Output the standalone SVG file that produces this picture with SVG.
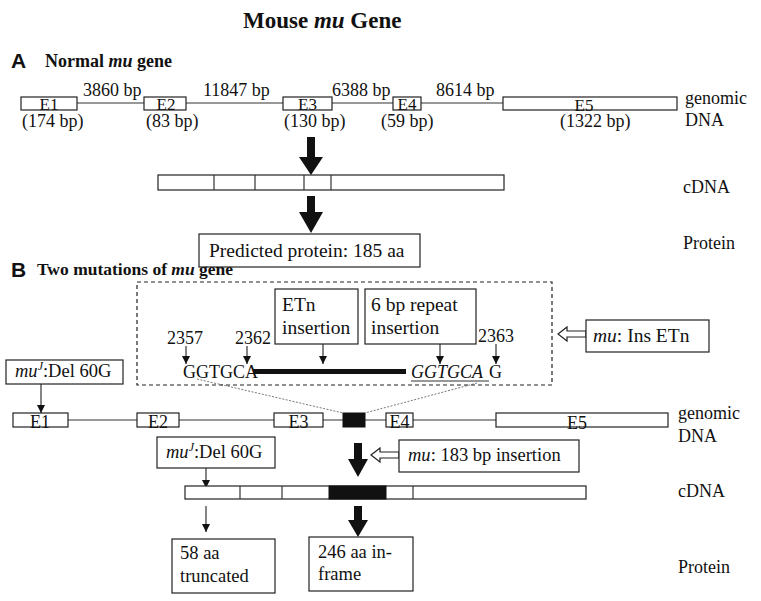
<svg xmlns="http://www.w3.org/2000/svg" width="761" height="601" viewBox="0 0 761 601">
<defs>
<style>
.t{font-family:"Liberation Serif","Times New Roman",serif;font-size:18px;fill:#111}
.e{font-family:"Liberation Serif","Times New Roman",serif;font-size:17px;fill:#111}
.tb{font-family:"Liberation Serif","Times New Roman",serif;font-size:18.5px;fill:#111}
.tl{font-family:"Liberation Serif","Times New Roman",serif;font-size:19.5px;fill:#111}
.h{font-family:"Liberation Serif","Times New Roman",serif;font-weight:bold;font-size:18px;fill:#111}
.sl{font-family:"Liberation Sans",Arial,sans-serif;font-weight:bold;font-size:21px;fill:#111}
.i{font-style:italic}
.box{fill:#fff;stroke:#222;stroke-width:1.2}
.ln{stroke:#333;stroke-width:1.2;fill:none}
.thin{stroke:#333;stroke-width:1.2;fill:none}
.dot{stroke:#555;stroke-width:0.8;fill:none;stroke-dasharray:2 1.5}
.dash{fill:none;stroke:#222;stroke-width:1.2;stroke-dasharray:4 3}
.big{fill:#111;stroke:none}
.hollow{fill:#fff;stroke:#222;stroke-width:1.2}
.blk{fill:#111;stroke:#111;stroke-width:1}
</style>
<marker id="ah" viewBox="0 0 10 10" refX="10" refY="5" markerWidth="8" markerHeight="8" markerUnits="userSpaceOnUse" orient="auto">
<path d="M0,0 L10,5 L0,10 Z" fill="#111"/>
</marker>
</defs>
<rect width="761" height="601" fill="#fff"/>

<g id="title">
<text class="h" x="243" y="28" style="font-size:23px">Mouse <tspan class="i">mu</tspan> Gene</text>
</g>

<g id="sectionA-label">
<text class="sl" x="11" y="68">A</text>
<text class="h" x="45" y="67">Normal <tspan class="i">mu</tspan> gene</text>
</g>

<g id="connectors">
<!-- A genomic intron line -->
<line class="ln" x1="77" y1="103" x2="503" y2="103"/>
<!-- A thick arrows -->
<path class="big" d="M307,137 H315 V157 H323 L311,175 L299,157 H307 Z"/>
<path class="big" d="M307,196 H315 V212 H323 L311,233 L299,212 H307 Z"/>
<!-- B genomic intron line -->
<line class="ln" x1="68" y1="420" x2="496" y2="420"/>
<!-- dotted expansion lines -->
<line class="dot" x1="197" y1="379" x2="343" y2="413"/>
<line class="dot" x1="477" y1="383" x2="365" y2="413"/>
<!-- small arrows in inset -->
<line class="thin" x1="186" y1="346" x2="186" y2="364" marker-end="url(#ah)"/>
<line class="thin" x1="247" y1="346" x2="247" y2="364" marker-end="url(#ah)"/>
<line class="thin" x1="323" y1="344" x2="323" y2="364" marker-end="url(#ah)"/>
<line class="thin" x1="440" y1="344" x2="440" y2="364" marker-end="url(#ah)"/>
<line class="thin" x1="496" y1="344" x2="496" y2="364" marker-end="url(#ah)"/>
<!-- ETn thick line -->
<line x1="253" y1="371.5" x2="406" y2="371.5" stroke="#111" stroke-width="5"/>
<!-- muJ arrows -->
<line class="thin" x1="41" y1="384" x2="41" y2="413" marker-end="url(#ah)"/>
<line class="thin" x1="206" y1="468" x2="206" y2="488" marker-end="url(#ah)"/>
<line class="thin" x1="206" y1="506" x2="206" y2="532" marker-end="url(#ah)"/>
<!-- B thick arrows -->
<path class="big" d="M354,443 H362 V459 H368 L358,477 L348,459 H354 Z"/>
<path class="big" d="M354,506 H362 V520 H368 L358,537 L348,520 H354 Z"/>
<!-- hollow arrows -->
<path class="hollow" d="M558,334 L567,327 V331 H586 V337 H567 V341 Z"/>
<path class="hollow" d="M371,455 L380,448 V452 H399 V458 H380 V462 Z"/>
</g>

<g id="A-exon1">
<rect class="box" x="21" y="97" width="56" height="13"/>
<text class="e" x="49" y="110" text-anchor="middle">E1</text>
<text class="t" x="22" y="127">(174 bp)</text>
</g>
<g id="A-exon2">
<rect class="box" x="144" y="97" width="42" height="13"/>
<text class="e" x="166" y="110" text-anchor="middle">E2</text>
<text class="t" x="146" y="127">(83 bp)</text>
</g>
<g id="A-exon3">
<rect class="box" x="283" y="97" width="49" height="13"/>
<text class="e" x="307.5" y="110" text-anchor="middle">E3</text>
<text class="t" x="284" y="127">(130 bp)</text>
</g>
<g id="A-exon4">
<rect class="box" x="393" y="97" width="28" height="13"/>
<text class="e" x="407" y="110" text-anchor="middle">E4</text>
<text class="t" x="381" y="127">(59 bp)</text>
</g>
<g id="A-exon5">
<rect class="box" x="503" y="97" width="174" height="13"/>
<text class="e" x="584" y="111" text-anchor="middle">E5</text>
<text class="t" x="560" y="127">(1322 bp)</text>
</g>
<g id="A-intron-labels">
<text class="t" x="83" y="96">3860 bp</text>
<text class="t" x="203" y="96">11847 bp</text>
<text class="t" x="332" y="96">6388 bp</text>
<text class="t" x="436" y="96">8614 bp</text>
</g>
<g id="A-row-labels">
<text class="t" x="685" y="104">genomic</text>
<text class="t" x="685" y="126">DNA</text>
<text class="t" x="683" y="193">cDNA</text>
<text class="t" x="683" y="249">Protein</text>
</g>

<g id="A-cdna">
<rect class="box" x="158" y="175" width="346" height="15"/>
<line class="ln" x1="214" y1="175" x2="214" y2="190"/>
<line class="ln" x1="255" y1="175" x2="255" y2="190"/>
<line class="ln" x1="304" y1="175" x2="304" y2="190"/>
<line class="ln" x1="331" y1="175" x2="331" y2="190"/>
</g>

<g id="A-protein">
<rect class="box" x="199" y="234" width="221" height="33"/>
<text class="tl" x="209" y="257">Predicted protein: 185 aa</text>
</g>

<g id="sectionB-label">
<text class="sl" x="11" y="277">B</text>
<text class="h" x="37" y="275" style="font-size:17.5px">Two mutations of <tspan class="i">mu</tspan> gene</text>
</g>

<g id="B-inset">
<rect class="dash" x="137" y="282" width="415" height="103"/>
<text class="t" x="167" y="344">2357</text>
<text class="t" x="235" y="344">2362</text>
<text class="t" x="478" y="342">2363</text>
<text class="t" x="183" y="378">GGTGCA</text>
<text class="t i" x="411" y="378">GGTGCA</text>
<line class="thin" x1="411" y1="381" x2="489" y2="381"/>
<text class="t" x="489" y="378">G</text>
</g>
<g id="B-etn-box">
<rect class="box" x="275" y="289" width="83" height="55"/>
<text class="tl" x="282" y="311">ETn</text>
<text class="tl" x="282" y="334">insertion</text>
</g>
<g id="B-repeat-box">
<rect class="box" x="365" y="289" width="111" height="55"/>
<text class="tl" x="371" y="311">6 bp repeat</text>
<text class="tl" x="371" y="334">insertion</text>
</g>
<g id="B-insetn-box">
<rect class="box" x="586" y="320" width="123" height="32"/>
<text class="tl" x="593" y="342"><tspan class="i">mu</tspan>: Ins ETn</text>
</g>
<g id="B-muJ-box1">
<rect class="box" x="6" y="360" width="117" height="24"/>
<text class="tb" x="15" y="377"><tspan class="i">mu</tspan><tspan class="i" font-size="12" dy="-7">J</tspan><tspan dy="7">:Del 60G</tspan></text>
</g>

<g id="B-genomic">
<rect class="box" x="13" y="413" width="55" height="14"/>
<text class="t" x="40" y="428" text-anchor="middle">E1</text>
<rect class="box" x="137" y="413" width="42" height="14"/>
<text class="t" x="158" y="428" text-anchor="middle">E2</text>
<rect class="box" x="274" y="413" width="49" height="14"/>
<text class="t" x="298.5" y="428" text-anchor="middle">E3</text>
<rect class="blk" x="343" y="413" width="22" height="14"/>
<rect class="box" x="386" y="413" width="27" height="14"/>
<text class="t" x="399.5" y="428" text-anchor="middle">E4</text>
<rect class="box" x="496" y="413" width="172" height="14"/>
<text class="t" x="577" y="429" text-anchor="middle">E5</text>
</g>
<g id="B-row-labels">
<text class="t" x="678" y="419">genomic</text>
<text class="t" x="678" y="442">DNA</text>
<text class="t" x="678" y="497">cDNA</text>
<text class="t" x="678" y="573">Protein</text>
</g>

<g id="B-muJ-box2">
<rect class="box" x="157" y="437" width="118" height="31"/>
<text class="tb" x="166" y="458"><tspan class="i">mu</tspan><tspan class="i" font-size="12" dy="-7">J</tspan><tspan dy="7">:Del 60G</tspan></text>
</g>
<g id="B-ins183-box">
<rect class="box" x="399" y="440" width="180" height="32"/>
<text class="tb" x="408" y="461"><tspan class="i">mu</tspan>: 183 bp insertion</text>
</g>

<g id="B-cdna">
<rect class="box" x="185" y="486" width="401" height="13"/>
<line class="ln" x1="240" y1="486" x2="240" y2="499"/>
<line class="ln" x1="282" y1="486" x2="282" y2="499"/>
<rect class="blk" x="329" y="486" width="57" height="13"/>
<line class="ln" x1="413" y1="486" x2="413" y2="499"/>
</g>

<g id="B-protein-truncated">
<rect class="box" x="172" y="539" width="103" height="54"/>
<text class="tb" x="180" y="559">58 aa</text>
<text class="tb" x="180" y="582">truncated</text>
</g>
<g id="B-protein-inframe">
<rect class="box" x="309" y="537" width="104" height="54"/>
<text class="tb" x="318" y="558">246 aa in-</text>
<text class="tb" x="318" y="580">frame</text>
</g>
</svg>
